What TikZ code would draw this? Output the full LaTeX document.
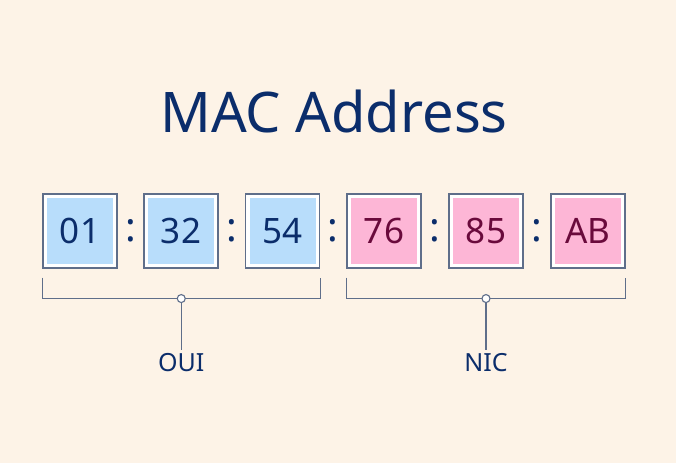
\documentclass[tikz,border=0pt]{standalone}
\usepackage{fontspec}
\setmainfont{Noto Sans}
\usetikzlibrary{calc}
\definecolor{bgcream}{HTML}{FDF3E7}
\definecolor{navy}{HTML}{0B2D6B}
\definecolor{maroon}{HTML}{6A0A3C}
\definecolor{skyfill}{HTML}{B8DDFB}
\definecolor{pinkfill}{HTML}{FDB6D6}
\definecolor{framegray}{HTML}{5F6E8A}

\begin{document}
\begin{tikzpicture}[x=1pt,y=-1pt,
    frame/.style={draw=framegray,line width=1.1pt,fill=white,minimum size=74pt,inner sep=0pt},
    cell/.style={minimum size=66pt,inner sep=0pt,font=\fontsize{35}{35}\selectfont},
    ouicell/.style={cell,fill=skyfill,text=navy},
    niccell/.style={cell,fill=pinkfill,text=maroon},
    sep/.style={text=navy,inner sep=0pt,font=\fontsize{40}{40}\selectfont\bfseries},
    brace/.style={draw=framegray,line width=1.1pt},
    knot/.style={circle,draw=framegray,fill=white,line width=1.1pt,inner sep=0pt,minimum size=8pt},
    tag/.style={text=navy,font=\fontsize{25}{25}\selectfont}]
  \fill[bgcream] (0,0) rectangle (676,463);
  \useasboundingbox (0,0) rectangle (676,463);

  \node[text=navy,font=\fontsize{56}{56}\selectfont] (title) at (334,111) {MAC Address};

  % the six bytes
  \foreach \i/\x/\byte/\kind in {1/80/01/oui,2/181/32/oui,3/282.5/54/oui,
      4/384/76/nic,5/486/85/nic,6/588/AB/nic}{
    \node[frame] (o\i) at (\x,231) {};
    \node[\kind cell] (b\i) at (o\i) {\byte};
  }
  \foreach \i/\j in {1/2,2/3,3/4,4/5,5/6}
    \node[sep] (c\i) at ($(o\i)!0.5!(o\j)$) {:};

  % brackets under the two halves
  \coordinate (ouimid) at ($(o1.south west)!0.5!(o3.south east)+(0,30)$);
  \coordinate (nicmid) at ($(o4.south west)!0.5!(o6.south east)+(0,30)$);
  \draw[brace] ($(o1.south west)+(0,9)$) |- (ouimid) -| ($(o3.south east)+(0,9)$);
  \draw[brace] ($(o4.south west)+(0,9)$) |- (nicmid) -| ($(o6.south east)+(0,9)$);
  \node[knot] (ouiknot) at (ouimid) {};
  \node[knot] (nicknot) at (nicmid) {};

  \node[tag] (oui) at (ouiknot |- 0,363) {OUI};
  \node[tag] (nic) at (nicknot |- 0,363) {NIC};
  \draw[brace] (ouiknot) -- (oui);
  \draw[brace] (nicknot) -- (nic);
\end{tikzpicture}
\end{document}
